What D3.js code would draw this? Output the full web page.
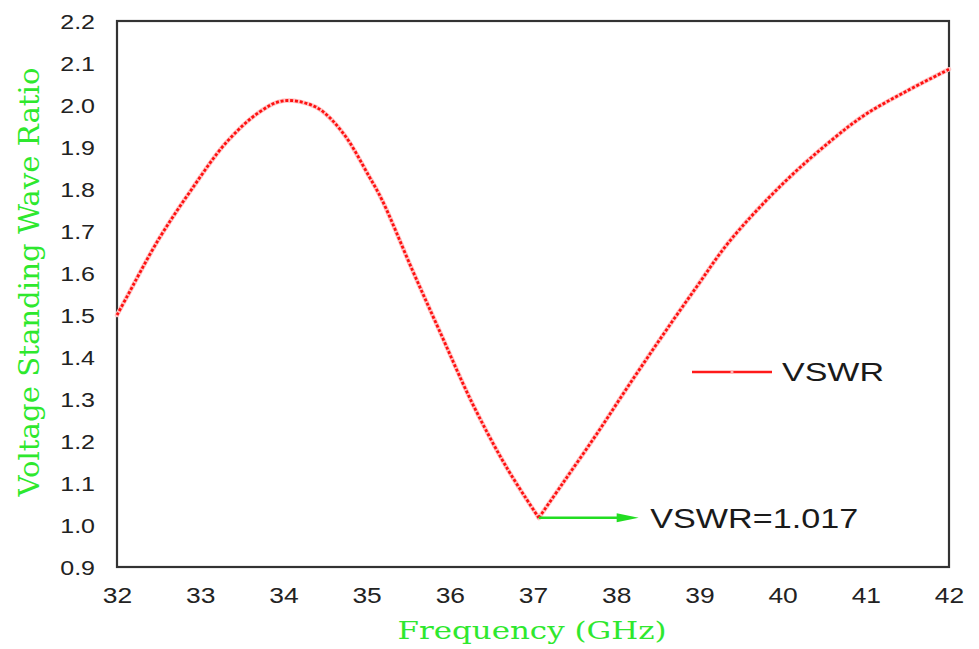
<!DOCTYPE html>
<html>
<head>
<meta charset="utf-8">
<script src="https://cdn.jsdelivr.net/npm/d3@7"></script>
<style>
  html, body { margin: 0; padding: 0; background: #fff; }
  svg { display: block; }
</style>
</head>
<body>
<svg id="chart" width="979" height="649"></svg>
<script>
// Measured VSWR over the band (GHz)
const frequency = [32.0, 32.11, 32.5, 32.9, 33.31, 33.71, 34.0, 34.39, 34.71, 35.03, 35.19,
                   35.55, 35.87, 36.27, 36.68, 37.07, 37.36, 37.76, 38.16, 38.56, 38.97,
                   39.36, 40.0, 40.6, 41.0, 41.49, 42.0];
const vswr = [1.50, 1.54, 1.68, 1.80, 1.91, 1.983, 2.01, 1.995, 1.935, 1.830, 1.772,
              1.607, 1.465, 1.29, 1.138, 1.017, 1.10, 1.215, 1.335, 1.452, 1.568,
              1.675, 1.812, 1.918, 1.978, 2.033, 2.085];
const xTicks = [32, 33, 34, 35, 36, 37, 38, 39, 40, 41, 42];
const yTicks = [0.9, 1.0, 1.1, 1.2, 1.3, 1.4, 1.5, 1.6, 1.7, 1.8, 1.9, 2.0, 2.1, 2.2];
const minFreq = 37.07;
const minVswr = 1.017;
const seriesName = "VSWR";

const data = frequency.map((f, i) => ({ f, v: vswr[i] }));
const minIndex = frequency.indexOf(minFreq);

const svg = d3.select("#chart");
const plot = { left: 117, right: 949, top: 21, bottom: 567 };
const stretch = 1.2; // horizontal widening of glyphs

const x = d3.scaleLinear().domain([32, 42]).range([plot.left, plot.right]);
const y = d3.scaleLinear().domain([0.9, 2.2]).range([plot.bottom, plot.top]);

// Axes: labels only, no tick marks
const xAxis = svg.append("g")
  .attr("transform", `translate(0,${plot.bottom})`)
  .call(d3.axisBottom(x).tickValues(xTicks).tickSize(0).tickFormat(d3.format("d")));
xAxis.select(".domain").remove();
xAxis.selectAll("text")
  .attr("y", 0).attr("dy", null)
  .attr("transform", `translate(0,36) scale(${stretch},1)`)
  .attr("font-family", "'Liberation Sans', Arial, sans-serif")
  .attr("font-size", 22)
  .attr("fill", "#222");

const yAxis = svg.append("g")
  .attr("transform", `translate(${plot.left},0)`)
  .call(d3.axisLeft(y).tickValues(yTicks).tickSize(0).tickFormat(d3.format(".1f")));
yAxis.select(".domain").remove();
yAxis.selectAll("text")
  .attr("x", 0).attr("dy", "0.36em")
  .attr("transform", `translate(-22,0) scale(${stretch + 0.05},1)`)
  .attr("font-family", "'Liberation Sans', Arial, sans-serif")
  .attr("font-size", 20)
  .attr("fill", "#222");

// Plot frame
svg.append("rect")
  .attr("x", plot.left).attr("y", plot.top)
  .attr("width", plot.right - plot.left).attr("height", plot.bottom - plot.top)
  .attr("fill", "none").attr("stroke", "#333").attr("stroke-width", 2.2);

// VSWR curve: two smooth branches meeting at the sharp minimum,
// drawn as a pale halo under a dotted red stroke
const line = d3.line().x(d => x(d.f)).y(d => y(d.v)).curve(d3.curveCatmullRom.alpha(0.5));
const branches = [data.slice(0, minIndex + 1), data.slice(minIndex)];
branches.forEach(seg => {
  svg.append("path").datum(seg)
    .attr("d", line).attr("fill", "none")
    .attr("stroke", "#ffc4c4").attr("stroke-width", 4.5)
    .attr("stroke-linecap", "round");
});
branches.forEach(seg => {
  svg.append("path").datum(seg)
    .attr("d", line).attr("fill", "none")
    .attr("stroke", "#ff1010").attr("stroke-width", 2.8)
    .attr("stroke-dasharray", "3,1.8");
});

// Minimum annotation arrow
const arrowColor = "#22dd22";
const ax0 = x(minFreq), ax1 = x(38.27), ay = y(minVswr);
svg.append("line")
  .attr("x1", ax0).attr("y1", ay).attr("x2", ax1 - 18).attr("y2", ay)
  .attr("stroke", arrowColor).attr("stroke-width", 2.5);
svg.append("path")
  .attr("d", `M${ax1},${ay} L${ax1 - 22},${ay - 4.5} L${ax1 - 22},${ay + 4.5} Z`)
  .attr("fill", arrowColor);
svg.append("text")
  .attr("transform", `translate(${x(38.41)},${ay}) scale(1.22,1)`)
  .attr("dy", "0.36em")
  .attr("font-family", "'Liberation Sans', Arial, sans-serif")
  .attr("font-size", 28)
  .attr("fill", "#1a1a1a")
  .text(`${seriesName}=${minVswr.toFixed(3)}`);

// Legend
const legend = svg.append("g").attr("transform", "translate(692,372)");
legend.append("line")
  .attr("x1", 0).attr("x2", 80).attr("y1", 0).attr("y2", 0)
  .attr("stroke", "#ff1a1a").attr("stroke-width", 2.6);
legend.append("circle")
  .attr("cx", 40).attr("cy", 0).attr("r", 1.6).attr("fill", "#ffb0b0");
legend.append("text")
  .attr("transform", "translate(90,0) scale(1.36,1)")
  .attr("dy", "0.36em")
  .attr("font-family", "'Liberation Sans', Arial, sans-serif")
  .attr("font-size", 25)
  .attr("fill", "#1a1a1a")
  .text(seriesName);

// Axis titles
const titleColor = "#2ee82e";
svg.append("text")
  .attr("x", 532).attr("y", 639)
  .attr("text-anchor", "middle")
  .attr("font-family", "'DejaVu Serif', 'Liberation Serif', serif")
  .attr("font-size", 24)
  .attr("textLength", 269).attr("lengthAdjust", "spacingAndGlyphs")
  .attr("fill", titleColor)
  .text("Frequency (GHz)");

svg.append("text")
  .attr("transform", "translate(39,282) rotate(-90) scale(1,1.2)")
  .attr("text-anchor", "middle")
  .attr("font-family", "'DejaVu Serif', 'Liberation Serif', serif")
  .attr("font-size", 23)
  .attr("textLength", 429).attr("lengthAdjust", "spacingAndGlyphs")
  .attr("fill", titleColor)
  .text("Voltage Standing Wave Ratio");
</script>
</body>
</html>
